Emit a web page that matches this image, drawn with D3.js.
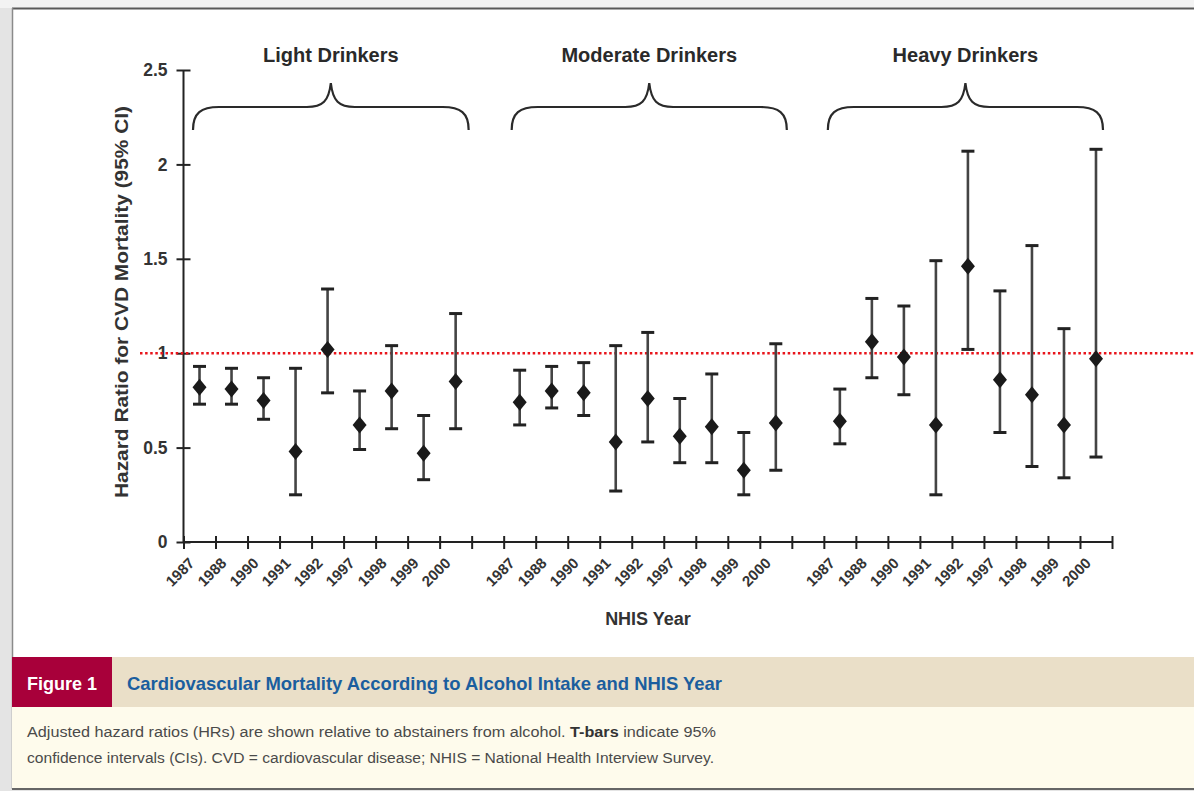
<!DOCTYPE html>
<html>
<head>
<meta charset="utf-8">
<script src="https://cdn.jsdelivr.net/npm/d3@7"></script>
<style>
  html, body { margin: 0; padding: 0; background: #ececec; }
  svg { display: block; }
</style>
</head>
<body>
<svg id="fig" width="1194" height="791"></svg>
<script>
// NHIS survey years shown within each drinking category
const years = ["1987", "1988", "1990", "1991", "1992", "1997", "1998", "1999", "2000"];
const groups = ["Light Drinkers", "Moderate Drinkers", "Heavy Drinkers"];

// Adjusted hazard ratios and 95% confidence limits, by year
const lightHR = [0.82, 0.81, 0.75, 0.48, 1.02, 0.62, 0.80, 0.47, 0.85];
const lightLo = [0.73, 0.73, 0.65, 0.25, 0.79, 0.49, 0.60, 0.33, 0.60];
const lightHi = [0.93, 0.92, 0.87, 0.92, 1.34, 0.80, 1.04, 0.67, 1.21];

const moderateHR = [0.74, 0.80, 0.79, 0.53, 0.76, 0.56, 0.61, 0.38, 0.63];
const moderateLo = [0.62, 0.71, 0.67, 0.27, 0.53, 0.42, 0.42, 0.25, 0.38];
const moderateHi = [0.91, 0.93, 0.95, 1.04, 1.11, 0.76, 0.89, 0.58, 1.05];

const heavyHR = [0.64, 1.06, 0.98, 0.62, 1.46, 0.86, 0.78, 0.62, 0.97];
const heavyLo = [0.52, 0.87, 0.78, 0.25, 1.02, 0.58, 0.40, 0.34, 0.45];
const heavyHi = [0.81, 1.29, 1.25, 1.49, 2.07, 1.33, 1.57, 1.13, 2.08];

const yTicks = [0, 0.5, 1, 1.5, 2, 2.5];
const referenceHR = 1;

const captionLabel = "Figure 1";
const captionTitle = "Cardiovascular Mortality According to Alcohol Intake and NHIS Year";

// Build the long table: each group occupies 9 slots followed by one empty slot
const series = [
  { group: groups[0], hr: lightHR, lo: lightLo, hi: lightHi },
  { group: groups[1], hr: moderateHR, lo: moderateLo, hi: moderateHi },
  { group: groups[2], hr: heavyHR, lo: heavyLo, hi: heavyHi }
];
const slotsPerGroup = years.length + 1;
const nSlots = groups.length * slotsPerGroup - 1;
const points = [];
series.forEach((s, gi) => {
  years.forEach((yr, i) => {
    points.push({ group: s.group, year: yr, slot: gi * slotsPerGroup + i, hr: s.hr[i], lo: s.lo[i], hi: s.hi[i] });
  });
});

const svg = d3.select("#fig");
const W = 1194, H = 791;
const font = "'Liberation Sans', Arial, Helvetica, sans-serif";

// ---- page / panel frame ----
svg.append("rect").attr("x", 0).attr("y", 0).attr("width", W).attr("height", H).attr("fill", "#e4e4e4");
svg.append("rect").attr("x", 0).attr("y", 0).attr("width", W).attr("height", 8).attr("fill", "#f3f3f3");
svg.append("rect").attr("x", 12).attr("y", 8).attr("width", W - 12).attr("height", 781).attr("fill", "#ffffff");
svg.append("line").attr("x1", 12).attr("x2", W).attr("y1", 8.5).attr("y2", 8.5).attr("stroke", "#5a5a5a").attr("stroke-width", 2);
svg.append("line").attr("x1", 12.5).attr("x2", 12.5).attr("y1", 8).attr("y2", 789).attr("stroke", "#8a8a8a").attr("stroke-width", 1.5);

// ---- scales ----
const x = d3.scaleLinear().domain([0, nSlots]).range([183.5, 1112]);
const y = d3.scaleLinear().domain([0, 2.5]).range([542, 70]);

const ink = "#222";

// ---- y axis ----
const yAxis = svg.append("g").attr("transform", `translate(${x(0)},0)`)
  .call(d3.axisLeft(y).tickValues(yTicks).tickFormat(d => String(d)).tickSize(7).tickPadding(9));
yAxis.select(".domain").attr("stroke", ink).attr("stroke-width", 2).attr("d", `M0,${y(2.5)}V${y(0)}`);
yAxis.selectAll(".tick line").attr("stroke", ink).attr("stroke-width", 2).attr("x1", 7).attr("x2", -7);
yAxis.selectAll(".tick text")
  .attr("fill", "#333").attr("font-family", font).attr("font-size", 17.5).attr("font-weight", "bold");

// ---- x axis: ticks at slot boundaries, labels at slot centres ----
const xAxis = svg.append("g").attr("transform", `translate(0,${y(0)})`)
  .call(d3.axisBottom(x).tickValues(d3.range(nSlots + 1)).tickFormat("").tickSize(6));
xAxis.select(".domain").attr("stroke", ink).attr("stroke-width", 2).attr("d", `M${x(0)},0H${x(nSlots)}`);
xAxis.selectAll(".tick line").attr("stroke", ink).attr("stroke-width", 2).attr("y1", -6).attr("y2", 7);

svg.append("g").selectAll("text").data(points).join("text")
  .attr("transform", d => `translate(${x(d.slot + 0.5) - 4},${y(0) + 22}) rotate(-45)`)
  .attr("text-anchor", "end")
  .attr("font-family", font).attr("font-size", 15).attr("font-weight", "bold").attr("fill", "#333")
  .text(d => d.year);

// axis titles
svg.append("text")
  .attr("x", 648).attr("y", 625).attr("text-anchor", "middle")
  .attr("font-family", font).attr("font-size", 18).attr("font-weight", "bold").attr("fill", "#333")
  .text("NHIS Year");
svg.append("text")
  .attr("transform", "translate(128,302) rotate(-90)").attr("text-anchor", "middle")
  .attr("font-family", font).attr("font-size", 19).attr("font-weight", "bold").attr("fill", "#333")
  .attr("textLength", 392).attr("lengthAdjust", "spacingAndGlyphs")
  .text("Hazard Ratio for CVD Mortality (95% CI)");

// ---- group braces and labels ----
const braceInset = [[9.5, 3], [8, 5], [4, 9]];
groups.forEach((g, gi) => {
  const s0 = gi * slotsPerGroup, s1 = s0 + years.length;
  const x0 = x(s0) + braceInset[gi][0], x1 = x(s1) - braceInset[gi][1], xm = (x0 + x1) / 2;
  const yEnd = 130, yBar = 107, yTip = 83;
  const p = d3.path();
  p.moveTo(x0, yEnd);
  p.bezierCurveTo(x0, yBar + 6, x0 + 8, yBar, x0 + 26, yBar);
  p.lineTo(xm - 24, yBar);
  p.bezierCurveTo(xm - 8, yBar, xm - 2, yBar - 6, xm, yTip);
  p.bezierCurveTo(xm + 2, yBar - 6, xm + 8, yBar, xm + 24, yBar);
  p.lineTo(x1 - 26, yBar);
  p.bezierCurveTo(x1 - 8, yBar, x1, yBar + 6, x1, yEnd);
  svg.append("path").attr("d", p.toString()).attr("fill", "none").attr("stroke", "#2a2a2a").attr("stroke-width", 2.2);
  svg.append("text").attr("x", xm).attr("y", 62).attr("text-anchor", "middle")
    .attr("font-family", font).attr("font-size", 20).attr("font-weight", "bold").attr("fill", "#2a2a2a")
    .text(g);
});

// ---- reference line at HR = 1 ----
svg.append("line")
  .attr("x1", 140).attr("x2", W).attr("y1", y(referenceHR)).attr("y2", y(referenceHR))
  .attr("stroke", "#e8141b").attr("stroke-width", 2.5).attr("stroke-dasharray", "2.5,2.6");

// ---- T-bars and diamonds ----
const marks = svg.append("g");
const capW = 6.5;
const pts = marks.selectAll("g").data(points).join("g")
  .attr("transform", d => `translate(${x(d.slot + 0.5)},0)`);
pts.append("line").attr("y1", d => y(d.lo)).attr("y2", d => y(d.hi))
  .attr("stroke", "#444").attr("stroke-width", 2.6);
pts.append("line").attr("x1", -capW).attr("x2", capW).attr("y1", d => y(d.hi)).attr("y2", d => y(d.hi))
  .attr("stroke", "#222").attr("stroke-width", 3);
pts.append("line").attr("x1", -capW).attr("x2", capW).attr("y1", d => y(d.lo)).attr("y2", d => y(d.lo))
  .attr("stroke", "#222").attr("stroke-width", 3);
pts.append("path")
  .attr("d", d => `M0,${y(d.hr) - 8.5}L7,${y(d.hr)}L0,${y(d.hr) + 8.5}L-7,${y(d.hr)}Z`)
  .attr("fill", "#1a1a1a");

// ---- caption block ----
svg.append("rect").attr("x", 12).attr("y", 657).attr("width", W - 12).attr("height", 50).attr("fill", "#eadfc8");
svg.append("rect").attr("x", 12).attr("y", 707).attr("width", W - 12).attr("height", 81).attr("fill", "#fefbec");
svg.append("rect").attr("x", 12).attr("y", 657).attr("width", 100).attr("height", 50).attr("fill", "#a8003a");
svg.append("line").attr("x1", 12).attr("x2", W).attr("y1", 789).attr("y2", 789).attr("stroke", "#666").attr("stroke-width", 2);

svg.append("text").attr("x", 62).attr("y", 690).attr("text-anchor", "middle")
  .attr("font-family", font).attr("font-size", 19).attr("font-weight", "bold").attr("fill", "#ffffff")
  .attr("textLength", 70).attr("lengthAdjust", "spacingAndGlyphs")
  .text(captionLabel);
svg.append("text").attr("x", 127).attr("y", 690)
  .attr("font-family", font).attr("font-size", 19).attr("font-weight", "bold").attr("fill", "#1b5e9e")
  .attr("textLength", 595).attr("lengthAdjust", "spacingAndGlyphs")
  .text(captionTitle);

const body1 = svg.append("text").attr("x", 27).attr("y", 737)
  .attr("font-family", font).attr("font-size", 14).attr("fill", "#4a4a4a")
  .attr("textLength", 689).attr("lengthAdjust", "spacingAndGlyphs");
body1.append("tspan").text("Adjusted hazard ratios (HRs) are shown relative to abstainers from alcohol. ");
body1.append("tspan").attr("font-weight", "bold").attr("fill", "#333").text("T-bars");
body1.append("tspan").text(" indicate 95%");

svg.append("text").attr("x", 27).attr("y", 763)
  .attr("font-family", font).attr("font-size", 14).attr("fill", "#4a4a4a")
  .attr("textLength", 687).attr("lengthAdjust", "spacingAndGlyphs")
  .text("confidence intervals (CIs). CVD = cardiovascular disease; NHIS = National Health Interview Survey.");
</script>
</body>
</html>
